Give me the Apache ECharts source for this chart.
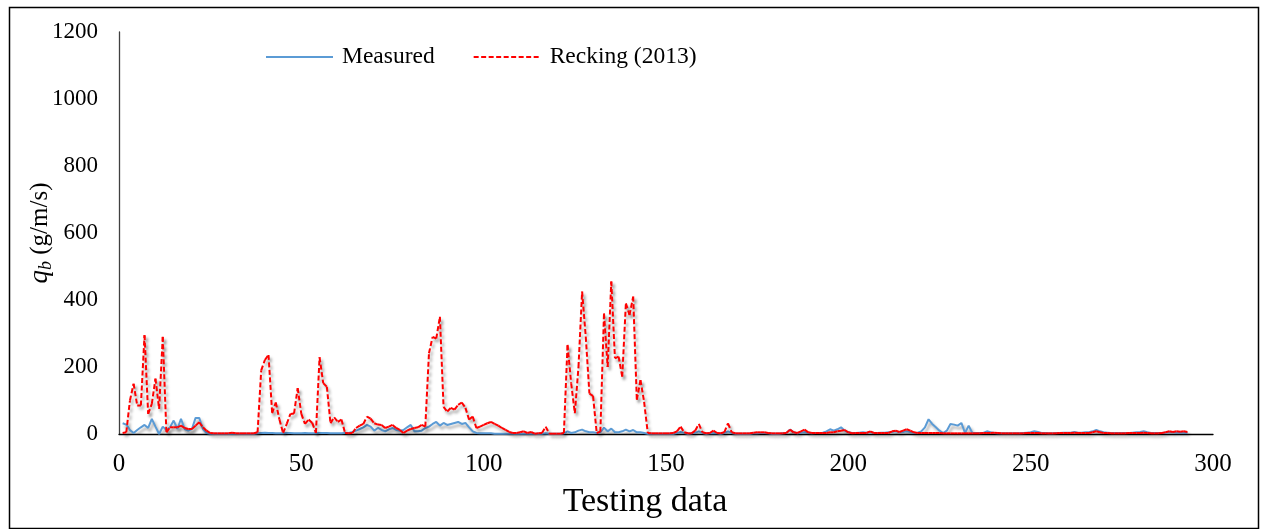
<!DOCTYPE html>
<html>
<head>
<meta charset="utf-8">
<script src="https://cdn.jsdelivr.net/npm/echarts@6/dist/echarts.min.js"></script>
<style>
html,body{margin:0;padding:0;background:#fff;}
#c{width:1262px;height:529px;}
</style>
</head>
<body>
<div id="c"></div>
<script>
const xTicks = [0, 50, 100, 150, 200, 250, 300];
const yTicks = [0, 200, 400, 600, 800, 1000, 1200];
const seriesNames = ['Measured', 'Recking (2013)'];

const measured = [
32,28,12,3,12,20,27,18,45,22,
0,22,12,20,40,15,45,15,10,15,
48,48,15,3,1,1,1,1,1,1,
1,1,1,1,1,1,1,2,3,4,
3,3,2,2,2,3,3,2,2,2,
3,2,2,2,3,3,3,2,2,2,
2,3,3,6,10,15,20,27,22,10,
18,12,8,14,18,12,10,12,20,27,
8,8,10,18,22,30,36,25,33,27,
30,33,36,30,33,20,8,3,2,2,
2,2,1,1,1,1,1,1,1,1,
1,1,1,1,1,1,2,1,1,1,
1,2,8,3,5,10,13,8,5,5,
3,5,19,8,16,5,5,8,13,8,
12,5,5,3,1,1,1,1,1,1,
1,1,3,6,3,1,2,4,8,3,
1,2,3,2,1,3,8,3,1,1,
1,1,1,2,2,3,3,2,1,1,
1,2,3,13,5,2,4,6,3,2,
3,3,4,8,14,10,14,20,10,5,
3,3,4,5,4,6,3,3,4,4,
5,6,8,5,6,8,6,3,4,8,
20,44,30,20,10,3,10,30,28,25,
33,3,25,3,3,3,3,8,5,3,
2,2,2,2,2,2,2,3,4,5,
8,6,3,3,2,2,3,3,4,4,
4,6,4,4,5,5,8,12,8,5,
4,3,3,3,3,3,3,4,5,6,
8,5,3,3,3,3,4,5,5,4,
4,4,3
];

const recking = [
3,5,100,150,85,85,295,60,90,165,
75,290,5,20,20,20,25,18,15,15,
25,35,20,10,3,2,2,2,2,2,
4,2,2,2,2,2,2,5,190,221,
236,62,94,43,3,30,60,61,137,60,
30,43,33,3,229,152,141,32,50,36,
43,3,2,3,18,25,30,52,46,32,
28,27,18,22,27,18,12,3,10,15,
18,20,27,22,241,290,285,350,81,67,
78,73,87,94,78,43,52,18,22,27,
32,36,30,25,18,12,6,3,3,5,
8,3,6,1,2,3,22,1,1,1,
1,3,266,151,62,200,425,290,121,113,
3,7,360,200,455,226,231,171,390,355,
410,102,161,96,3,2,2,2,2,2,
2,3,8,22,5,2,2,10,30,5,
2,3,10,3,2,5,32,5,2,2,
2,2,2,4,5,5,5,3,2,2,
2,2,3,13,5,3,8,13,5,3,
3,3,3,3,5,5,8,10,12,5,
2,3,3,3,3,8,3,3,3,3,
3,8,10,6,10,14,10,5,3,3,
3,3,3,3,3,2,2,2,2,2,
2,2,2,2,2,2,3,3,3,4,
3,2,2,2,2,2,2,2,3,3,
3,3,2,2,2,2,2,3,3,3,
3,4,3,3,3,3,5,8,5,3,
3,2,2,2,2,2,3,3,3,3,
4,3,2,2,2,3,5,8,6,8,
7,8,6
];

const toPairs = arr => arr.map((v, i) => [i + 1, v]);
const FONT = '"Liberation Serif", "Times New Roman", serif';
const SHADOW = {shadowColor: 'rgba(0,0,0,0.35)', shadowBlur: 3, shadowOffsetX: 2, shadowOffsetY: 3};
const RED = '#FF0000', BLUE = '#5B9BD5';
const DASH = [5, 2.5];

const chart = echarts.init(document.getElementById('c'), null, {renderer: 'canvas'});
chart.setOption({
  animation: false,
  backgroundColor: '#ffffff',
  textStyle: {fontFamily: FONT, color: '#000'},
  graphic: [{
    type: 'rect', left: 7, top: 5,
    shape: {width: 1249, height: 521},
    style: {fill: 'none', stroke: '#000', lineWidth: 1.5},
    silent: true
  }],
  legend: {
    top: 40, left: 260,
    itemWidth: 67, itemHeight: 14, itemGap: 38,
    itemStyle: {opacity: 0},
    textStyle: {fontFamily: FONT, fontSize: 23.5, color: '#000', padding: [0, 0, 0, 4]},
    data: [
      {name: seriesNames[0]},
      {name: seriesNames[1], lineStyle: {opacity: 1, color: RED, width: 2, type: DASH}}
    ]
  },
  grid: {left: 119, top: 32, right: 49, bottom: 95, containLabel: false},
  xAxis: {
    type: 'value', min: xTicks[0], max: xTicks[xTicks.length - 1], interval: 50,
    name: 'Testing data', nameLocation: 'middle', nameGap: 51,
    nameTextStyle: {fontFamily: FONT, fontSize: 34, color: '#000', padding: [0, 42, 0, 0]},
    axisLine: {show: true, onZero: false, lineStyle: {color: '#000', width: 1.3}},
    axisTick: {show: false},
    splitLine: {show: false},
    axisLabel: {fontFamily: FONT, fontSize: 25, color: '#000', margin: 18, formatter: v => String(v)}
  },
  yAxis: {
    type: 'value', min: yTicks[0], max: yTicks[yTicks.length - 1], interval: 200,
    name: '{q|q}{b|b} {u|(g/m/s)}', nameLocation: 'middle', nameGap: 64, nameRotate: 90,
    nameMoveOverlap: false,
    nameTextStyle: {
      fontFamily: FONT, fontSize: 25, color: '#000',
      rich: {
        q: {fontFamily: FONT, fontSize: 27, fontStyle: 'italic', color: '#000', lineHeight: 30},
        b: {fontFamily: FONT, fontSize: 18, fontStyle: 'italic', color: '#000', verticalAlign: 'bottom', lineHeight: 30, padding: [10, 0, 0, 0]},
        u: {fontFamily: FONT, fontSize: 25, color: '#000', lineHeight: 30}
      }
    },
    axisLine: {show: true, lineStyle: {color: '#404040', width: 1.3}},
    axisTick: {show: false},
    splitLine: {show: false},
    axisLabel: {fontFamily: FONT, fontSize: 23, color: '#000', margin: 21, formatter: v => String(v)}
  },
  series: [
    {
      name: seriesNames[0], type: 'line', data: toPairs(measured),
      symbol: 'none', smooth: false, z: 3,
      lineStyle: Object.assign({color: BLUE, width: 2}, SHADOW),
      itemStyle: {color: BLUE}
    },
    {
      // legend holder for the red series (drawn by the custom series below)
      name: seriesNames[1], type: 'line', data: toPairs(recking),
      symbol: 'none', smooth: false, z: 1, silent: true,
      lineStyle: {color: RED, width: 2, type: DASH, opacity: 0},
      itemStyle: {color: RED}
    },
    {
      // Excel-style dashes: pattern restarts on every segment
      name: seriesNames[1], type: 'custom', data: toPairs(recking),
      encode: {x: 0, y: 1}, z: 4, silent: true,
      renderItem: function (params, api) {
        const i = params.dataIndex;
        if (i >= recking.length - 1) return null;
        const p0 = api.coord([i + 1, recking[i]]);
        const p1 = api.coord([i + 2, recking[i + 1]]);
        return {
          type: 'line',
          shape: {x1: p0[0], y1: p0[1], x2: p1[0], y2: p1[1]},
          style: Object.assign({stroke: RED, lineWidth: 2, lineDash: DASH, lineCap: 'butt', fill: null}, SHADOW)
        };
      }
    }
  ]
});
</script>
</body>
</html>
